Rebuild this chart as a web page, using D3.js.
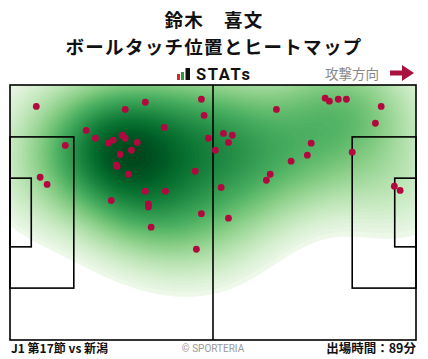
<!DOCTYPE html>
<html><head><meta charset="utf-8">
<script src="https://cdn.jsdelivr.net/npm/d3@7"></script>
<style>
html,body{margin:0;padding:0;background:#fff;}
svg{display:block;}
</style></head>
<body>
<script>
// ---- data (pitch coordinates in metres, 105 x 68, attacking to the right) ----
const playerName = "鈴木　喜文";
const chartTitle = "ボールタッチ位置とヒートマップ";
const matchLabel = "J1 第17節 vs 新潟";
const minutesLabel = "出場時間：89分";
const touchX = [6.8,35.0,29.8,49.5,50.2,19.7,39.9,51.3,22.1,26.7,25.4,29.0,29.8,32.9,14.3,28.5,31.4,27.5,27.7,30.6,47.9,7.8,9.6,35.0,40.2,26.2,35.8,35.8,49.5,36.5,48.2,
  81.5,82.6,84.9,87.0,68.9,96.0,94.5,55.2,57.5,56.5,53.1,77.9,76.9,88.5,72.7,67.3,66.3,54.6,99.4,100.9,56.5];
const touchY = [5.7,4.6,6.5,3.8,8.1,12.1,11.3,14.2,14.2,14.7,15.5,13.4,14.2,15.3,16.1,18.5,17.4,21.4,21.7,23.8,23.0,24.6,26.5,28.3,28.3,30.8,31.7,32.5,34.3,37.9,43.8,
  3.5,4.3,3.8,3.8,6.5,5.7,10.2,12.9,13.4,15.3,17.4,15.5,18.7,17.9,20.3,23.8,25.4,27.3,27.0,28.1,35.5];
const pitchLength = 105, pitchWidth = 68;

const W = 428, H = 359;
const svg = d3.select("body").append("svg").attr("width", W).attr("height", H);

const x = d3.scaleLinear().domain([0, pitchLength]).range([10, 416]);
const y = d3.scaleLinear().domain([0, pitchWidth]).range([85, 340]);

// ---- header ----
const fontJP = "'Noto Sans CJK JP','Noto Sans',sans-serif";
svg.append("text").attr("x", 214).attr("y", 27).attr("text-anchor", "middle")
  .attr("font-family", fontJP).attr("font-weight", 700).attr("font-size", 18.5).attr("letter-spacing", 1.3).attr("fill", "#111").text(playerName);
svg.append("text").attr("x", 214).attr("y", 54).attr("text-anchor", "middle")
  .attr("font-family", fontJP).attr("font-weight", 700).attr("font-size", 18.5).attr("letter-spacing", 1.3).attr("fill", "#111").text(chartTitle);

// STATs logo
const logo = svg.append("g");
logo.append("rect").attr("x", 177).attr("y", 74).attr("width", 3).attr("height", 6).attr("fill", "#d8262c");
logo.append("rect").attr("x", 181).attr("y", 72).attr("width", 3).attr("height", 8).attr("fill", "#2c9a3c");
logo.append("rect").attr("x", 185.5).attr("y", 68).attr("width", 4.5).attr("height", 12).attr("fill", "#111");
logo.append("text").attr("x", 196).attr("y", 80).attr("font-family", "Roboto, sans-serif").attr("font-weight", 700)
  .attr("font-size", 16.5).attr("letter-spacing", 1.6).attr("fill", "#111").text("STATs");

// attack direction
svg.append("text").attr("x", 325).attr("y", 78.5).attr("font-family", fontJP).attr("font-size", 13.5)
  .attr("fill", "#888").text("攻撃方向");
svg.append("path").attr("d", "M390,70.5 L402,70.5 L402,65 L414,73 L402,81 L402,75.5 L390,75.5 Z").attr("fill", "#a8123f");

// ---- KDE heatmap ----
const n = touchX.length;
const hx = 11.5, hy = 10.5;   // kernel bandwidths (m)

const gx0 = -45, gx1 = 150, gy0 = -35, gy1 = 103, step = 0.75;
const nx = Math.round((gx1-gx0)/step)+1, ny = Math.round((gy1-gy0)/step)+1;
const vals = new Float64Array(nx*ny);
for (let j = 0; j < ny; j++) {
  const gy = gy0 + j*step;
  for (let i = 0; i < nx; i++) {
    const gx = gx0 + i*step;
    let s = 0;
    for (let k = 0; k < n; k++) {
      const dx = (gx - touchX[k])/hx, dy = (gy - touchY[k])/hy;
      s += Math.exp(-0.5*(dx*dx + dy*dy));
    }
    vals[j*nx+i] = s;
  }
}
// iso-proportion levels (seaborn style)
const sorted = Array.from(vals).sort((a,b)=>b-a);
const total = d3.sum(sorted);
const cum = []; let acc = 0;
for (const v of sorted) { acc += v; cum.push(acc/total); }
const thresh = 0.05, nLevels = 80;
const levels = [];
for (let i = 0; i < nLevels; i++) {
  const p = thresh + (1-thresh)*i/nLevels;
  const idx = d3.bisectLeft(cum, 1-p);
  levels.push(sorted[Math.min(idx, sorted.length-1)]);
}
const uniq = Array.from(new Set(levels)).sort((a,b)=>a-b);
const vmax = sorted[0];
const color = d3.scaleSequential(t => d3.interpolateGreens(0.07 + 0.93*Math.pow(t, 0.75))).domain([uniq[0], vmax]);

const contours = d3.contours().size([nx, ny]).thresholds(uniq)(vals);
const proj = d3.geoTransform({point(px, py){ this.stream.point(x(gx0 + px*step), y(gy0 + py*step)); }});
const path = d3.geoPath(proj);

svg.append("clipPath").attr("id", "pitchClip").append("rect")
  .attr("x", x(0)).attr("y", y(0)).attr("width", x(pitchLength)-x(0)).attr("height", y(pitchWidth)-y(0));
const heat = svg.append("g").attr("clip-path", "url(#pitchClip)");
heat.selectAll("path").data(contours).join("path")
  .attr("d", path).attr("fill", d => color(d.value)).attr("stroke", d => color(d.value)).attr("stroke-width", 0.3);

// ---- pitch lines ----
const lines = svg.append("g").attr("fill", "none").attr("stroke", "#000").attr("stroke-width", 1.6);
lines.append("rect").attr("x", x(0)).attr("y", y(0)).attr("width", x(105)-x(0)).attr("height", y(68)-y(0));
lines.append("line").attr("x1", x(52.5)).attr("x2", x(52.5)).attr("y1", y(0)).attr("y2", y(68));
const boxes = [
  [0, 16.5, 13.84, 54.16], [0, 5.5, 24.84, 43.16],
  [88.5, 105, 13.84, 54.16], [99.5, 105, 24.84, 43.16]
];
boxes.forEach(b => lines.append("rect").attr("x", x(b[0])).attr("y", y(b[2]))
  .attr("width", x(b[1])-x(b[0])).attr("height", y(b[3])-y(b[2])));

// ---- touches ----
svg.append("g").selectAll("circle").data(d3.range(n)).join("circle")
  .attr("cx", i => x(touchX[i])).attr("cy", i => y(touchY[i])).attr("r", 3.4).attr("fill", "#b3083f");

// ---- footer ----
svg.append("text").attr("x", 11).attr("y", 353).attr("font-family", fontJP).attr("font-weight", 700)
  .attr("font-size", 12).attr("fill", "#111").text(matchLabel);
svg.append("text").attr("x", 213).attr("y", 352).attr("text-anchor", "middle").attr("font-family", "Roboto, sans-serif")
  .attr("font-size", 10).attr("fill", "#999").text("© SPORTERIA");
svg.append("text").attr("x", 416).attr("y", 353).attr("text-anchor", "end").attr("font-family", fontJP).attr("font-weight", 700)
  .attr("font-size", 12.5).attr("fill", "#111").text(minutesLabel);
</script>
</body></html>
